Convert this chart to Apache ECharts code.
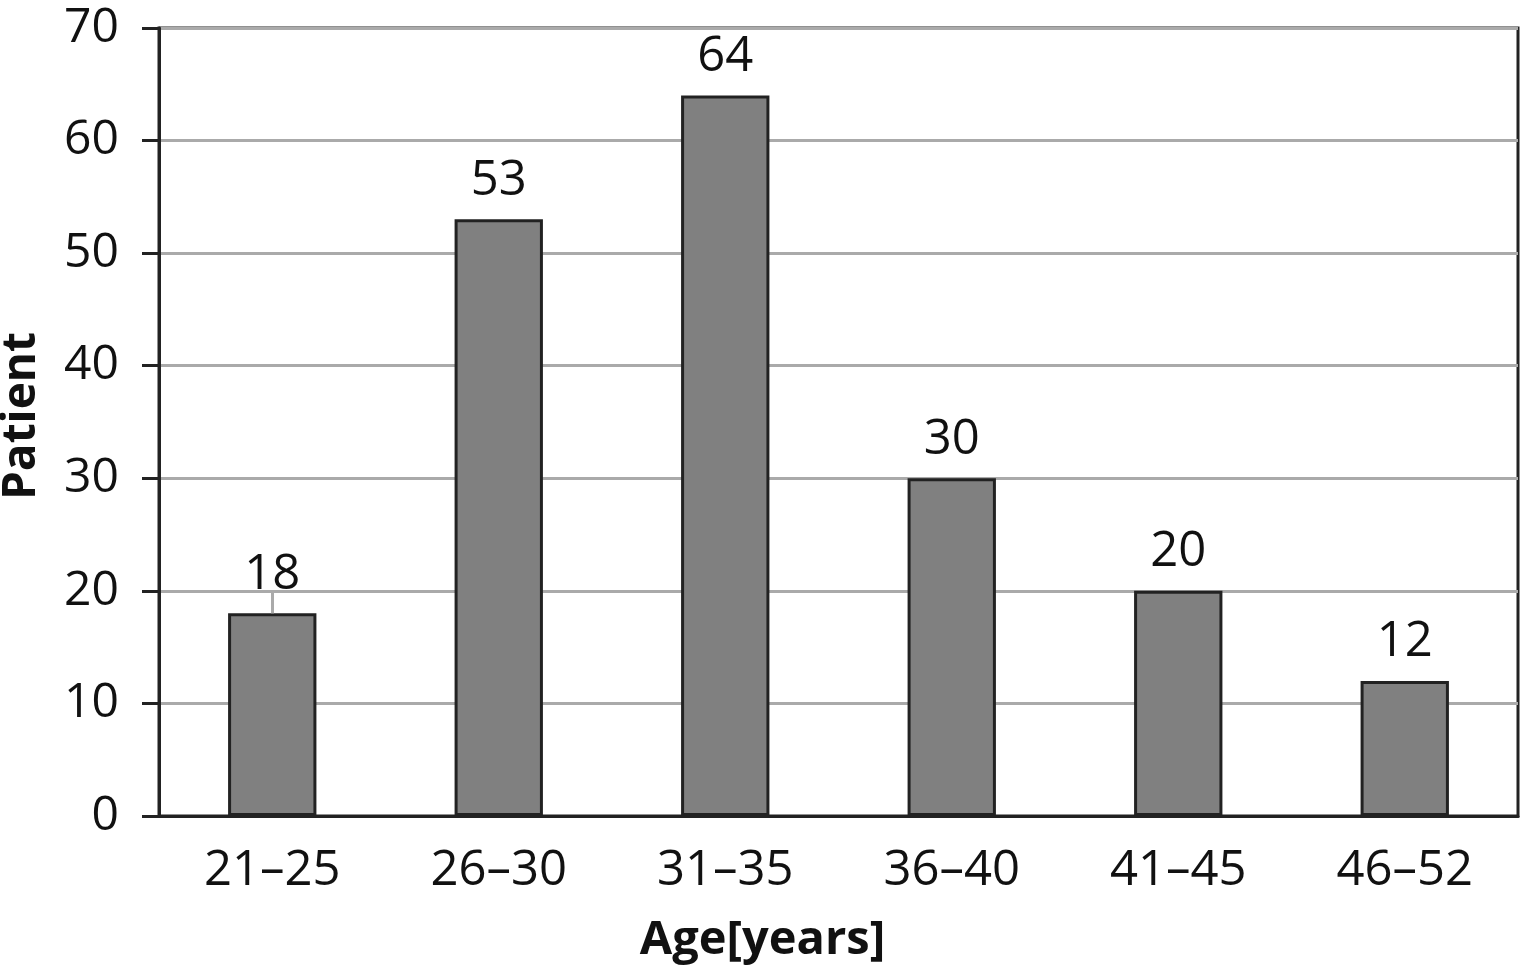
<!DOCTYPE html>
<html><head><meta charset="utf-8">
<script src="https://cdn.jsdelivr.net/npm/echarts@6/dist/echarts.min.js"></script>
<style>html,body{margin:0;padding:0;background:#fff}#c{width:1522px;height:968px}</style>
</head><body><div id="c"></div>
<script>
const categories = ['21–25','26–30','31–35','36–40','41–45','46–52'];
const patients = [18, 53, 64, 30, 20, 12];
const yTicks = [0,10,20,30,40,50,60,70];
const xTitle = 'Age[years]';
const yTitle = 'Patient';
const FONT = '"Open Sans", "Noto Sans", sans-serif';
const chart = echarts.init(document.getElementById('c'));
chart.setOption({
  animation: false,
  backgroundColor: '#fff',
  grid: {left: 159, right: 4, top: 28, bottom: 152, containLabel: false, outerBoundsMode: 'none',
         show: true, borderColor: '#222', borderWidth: 3, backgroundColor: 'transparent'},
  xAxis: {
    type: 'category', data: categories,
    axisLine: {lineStyle: {color: '#222', width: 3}},
    axisTick: {show: false},
    axisLabel: {color: '#111', fontSize: 49, fontFamily: FONT, margin: 31},
    name: xTitle, nameLocation: 'middle', nameGap: 101,
    nameTextStyle: {color: '#111', fontSize: 47, fontWeight: 'bold', fontFamily: FONT, padding: [0, 152, 0, 0]}
  },
  yAxis: {
    type: 'value', min: yTicks[0], max: yTicks[yTicks.length-1], interval: 10,
    axisLine: {show: true, lineStyle: {color: '#222', width: 3}},
    axisTick: {show: true, length: 17, lineStyle: {color: '#222', width: 3}},
    splitLine: {lineStyle: {color: '#aaa', width: 3}},
    axisLabel: {color: '#111', fontSize: 48, fontFamily: FONT, margin: 40},
    name: yTitle, nameLocation: 'middle', nameGap: 114, nameRotate: 90,
    nameTextStyle: {color: '#111', fontSize: 46, fontWeight: 'bold', fontFamily: FONT, padding: [0, 0, 0, 12]}
  },
  series: [{
    type: 'bar', data: patients, barWidth: '39%',
    itemStyle: {color: '#808080', borderColor: '#222', borderWidth: 3},
    label: {show: true, position: 'top', distance: 14, color: '#111', fontSize: 49, fontFamily: FONT},
    markLine: {
      silent: true, symbol: 'none', label: {show: false},
      lineStyle: {color: '#aaa', width: 3, type: 'solid'},
      data: [[{coord: [categories[0], patients[0]]}, {coord: [categories[0], 20]}]]
    }
  }]
});
</script></body></html>
